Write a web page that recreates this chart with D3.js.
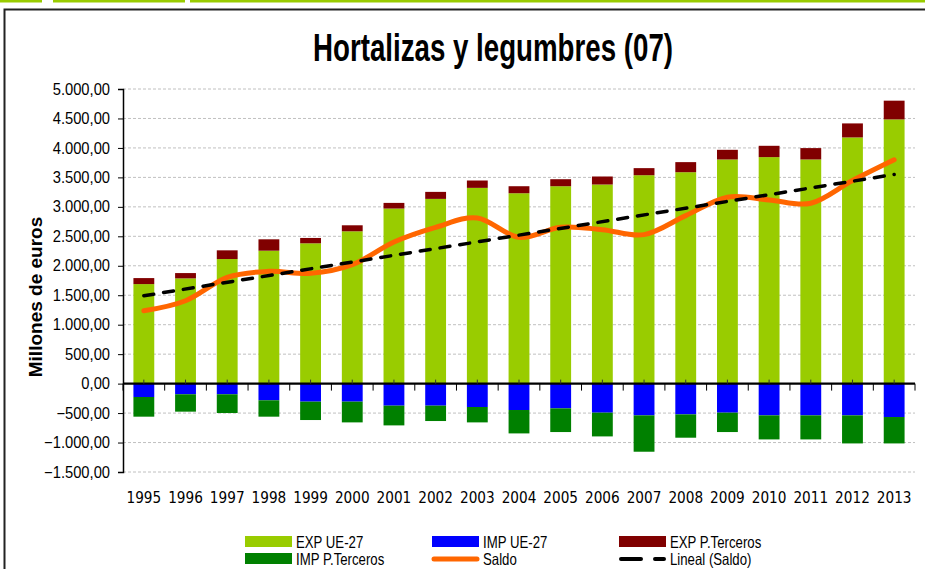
<!DOCTYPE html>
<html lang="es">
<head>
<meta charset="utf-8">
<title>Hortalizas y legumbres (07)</title>
<script src="https://d3js.org/d3.v7.min.js"></script>
<style>
  body { margin: 0; background: #fff; }
  svg { display: block; font-family: "Liberation Sans", Arial, sans-serif; }
</style>
</head>
<body>
<div id="chart"></div>
<script>
// data (millones de euros)
var years = ["1995","1996","1997","1998","1999","2000","2001","2002","2003","2004",
             "2005","2006","2007","2008","2009","2010","2011","2012","2013"];
var expUE = [1689,1786,2114,2256,2381,2585,2971,3135,3322,3231,3350,3379,3537,3588,3804,3844,3804,4178,4484];
var expPT = [102,90,148,193,91,102,96,119,125,119,119,136,120,171,164,192,193,238,318];
var impUE = [-227,-181,-181,-283,-306,-306,-374,-374,-397,-448,-420,-493,-539,-522,-493,-539,-539,-539,-567];
var impPT = [-334,-295,-318,-278,-312,-352,-335,-261,-261,-397,-402,-403,-617,-396,-329,-408,-408,-476,-448];
var saldo = [1236,1406,1803,1905,1871,2018,2404,2653,2812,2483,2653,2613,2528,2851,3163,3118,3061,3447,3798];
var trendEnds = [1491, 3549]; // Lineal (Saldo) at 1995 and 2013
var yTicks = [-1500,-1000,-500,0,500,1000,1500,2000,2500,3000,3500,4000,4500,5000];

var W = 925, H = 569;
var svg = d3.select("#chart").append("svg").attr("width", W).attr("height", H);

// squeeze a text to look like a narrow face
function narrow(sel, k) {
  sel.each(function() {
    var len = this.getComputedTextLength();
    d3.select(this).attr("textLength", len * k).attr("lengthAdjust", "spacingAndGlyphs");
  });
}

// top decorative strip + frame
[[0,42],[53,185],[190,925]].forEach(function(s) {
  svg.append("rect").attr("x", s[0]).attr("y", 0).attr("width", s[1]-s[0]).attr("height", 2.5).attr("fill", "#99cc00");
});
svg.append("path").attr("d", "M4.5,575 V9.5 H930").attr("fill", "none").attr("stroke", "#222").attr("stroke-width", 2);

// title
svg.append("text")
  .attr("x", 493).attr("y", 61)
  .attr("text-anchor", "middle")
  .attr("font-weight", "bold").attr("font-size", 39)
  .attr("textLength", 360).attr("lengthAdjust", "spacingAndGlyphs")
  .text("Hortalizas y legumbres (07)");

var x = d3.scaleBand().domain(years).range([123, 915]).paddingInner(0.5).paddingOuter(0.25);
var y = d3.scaleLinear().domain([-1500, 5000]).range([472, 89]);

// gridlines
svg.append("g").selectAll("line").data(yTicks.filter(function(d){ return d !== 0; })).enter()
  .append("line")
  .attr("x1", 123).attr("x2", 915)
  .attr("y1", function(d){ return y(d); }).attr("y2", function(d){ return y(d); })
  .attr("stroke", "#c0c0c0").attr("stroke-dasharray", "3,2");

// y axis
var fmt = function(d) {
  var s = d3.format(",.2f")(d);
  return s.replace(/,/g, "#").replace(".", ",").replace(/#/g, ".");
};
var yAxis = svg.append("g").attr("transform", "translate(123,0)")
  .call(d3.axisLeft(y).tickValues(yTicks).tickSize(5).tickPadding(8).tickFormat(fmt));
yAxis.select(".domain").attr("stroke", "#000").attr("stroke-width", 1.5);
yAxis.selectAll("text").attr("font-size", 16).attr("font-family", "Liberation Sans, Arial, sans-serif")
  .attr("fill", "#000").call(narrow, 0.92);

svg.append("text")
  .attr("transform", "translate(42,297) rotate(-90)")
  .attr("text-anchor", "middle")
  .attr("font-weight", "bold").attr("font-size", 19)
  .text("Millones de euros");

// bars
var stacks = [
  {vals: expUE, base: null,  color: "#99cc00"},
  {vals: expPT, base: expUE, color: "#800000"},
  {vals: impUE, base: null,  color: "#0000ff"},
  {vals: impPT, base: impUE, color: "#008000"}
];
stacks.forEach(function(s) {
  svg.append("g").selectAll("rect").data(years).enter().append("rect")
    .attr("x", function(d){ return x(d); })
    .attr("width", x.bandwidth())
    .attr("y", function(d, i) {
      var b = s.base ? s.base[i] : 0;
      return Math.min(y(b), y(b + s.vals[i]));
    })
    .attr("height", function(d, i) {
      var b = s.base ? s.base[i] : 0;
      return Math.abs(y(b) - y(b + s.vals[i]));
    })
    .attr("fill", s.color);
});

// zero axis with category ticks
var y0 = y(0);
svg.append("line").attr("x1", 123).attr("x2", 915).attr("y1", y0).attr("y2", y0)
  .attr("stroke", "#000").attr("stroke-width", 2.2);
var step = x.step();
svg.append("g").selectAll("line").data(d3.range(years.length + 1)).enter().append("line")
  .attr("x1", function(i){ return 123 + i * step; }).attr("x2", function(i){ return 123 + i * step; })
  .attr("y1", y0).attr("y2", y0 + 7).attr("stroke", "#000").attr("stroke-width", 1);
svg.append("g").selectAll("line").data(years).enter().append("line")
  .attr("x1", function(d){ return x(d) + x.bandwidth() / 2; }).attr("x2", function(d){ return x(d) + x.bandwidth() / 2; })
  .attr("y1", y0 - 4).attr("y2", y0).attr("stroke", "#333").attr("stroke-width", 1);

// x labels
svg.append("g").selectAll("text").data(years).enter().append("text")
  .attr("x", function(d){ return x(d) + x.bandwidth() / 2; })
  .attr("y", 503)
  .attr("text-anchor", "middle").attr("font-size", 15.5)
  .attr("font-family", "DejaVu Sans, sans-serif")
  .text(function(d){ return d; })
  .call(narrow, 0.88);

// saldo line
var cx = function(i){ return x(years[i]) + x.bandwidth() / 2; };
var line = d3.line().x(function(d, i){ return cx(i); }).y(function(d){ return y(d); })
  .curve(d3.curveCatmullRom.alpha(0));
svg.append("path").datum(saldo).attr("d", line)
  .attr("fill", "none").attr("stroke", "#ff6600").attr("stroke-width", 5).attr("stroke-linecap", "round");

// trend line
svg.append("line")
  .attr("x1", cx(0)).attr("y1", y(trendEnds[0]))
  .attr("x2", cx(years.length - 1)).attr("y2", y(trendEnds[1]))
  .attr("stroke", "#000").attr("stroke-width", 3.5)
  .attr("stroke-dasharray", "10,10").attr("stroke-linecap", "round");

// legend
var legend = [
  {label: "EXP UE-27",     type: "rect", color: "#99cc00", lx: 245, ly: 0},
  {label: "IMP UE-27",     type: "rect", color: "#0000ff", lx: 432, ly: 0},
  {label: "EXP P.Terceros",type: "rect", color: "#800000", lx: 619, ly: 0},
  {label: "IMP P.Terceros",type: "rect", color: "#008000", lx: 245, ly: 1},
  {label: "Saldo",         type: "line", color: "#ff6600", lx: 432, ly: 1},
  {label: "Lineal (Saldo)",type: "dash", color: "#000",    lx: 619, ly: 1}
];
var lg = svg.append("g");
legend.forEach(function(d) {
  var top = 536 + d.ly * 17;
  if (d.type === "rect") {
    lg.append("rect").attr("x", d.lx).attr("y", top).attr("width", 47).attr("height", 11).attr("fill", d.color);
  } else {
    lg.append("line").attr("x1", d.lx + 2).attr("x2", d.lx + 45).attr("y1", top + 6).attr("y2", top + 6)
      .attr("stroke", d.color).attr("stroke-width", d.type === "line" ? 5 : 4)
      .attr("stroke-linecap", "round")
      .attr("stroke-dasharray", d.type === "dash" ? "20,14" : null);
  }
  lg.append("text")
    .attr("x", d.lx + 51).attr("y", top + 12)
    .attr("font-size", 16.5)
    .text(d.label)
    .call(narrow, 0.8);
});
</script>
</body>
</html>
